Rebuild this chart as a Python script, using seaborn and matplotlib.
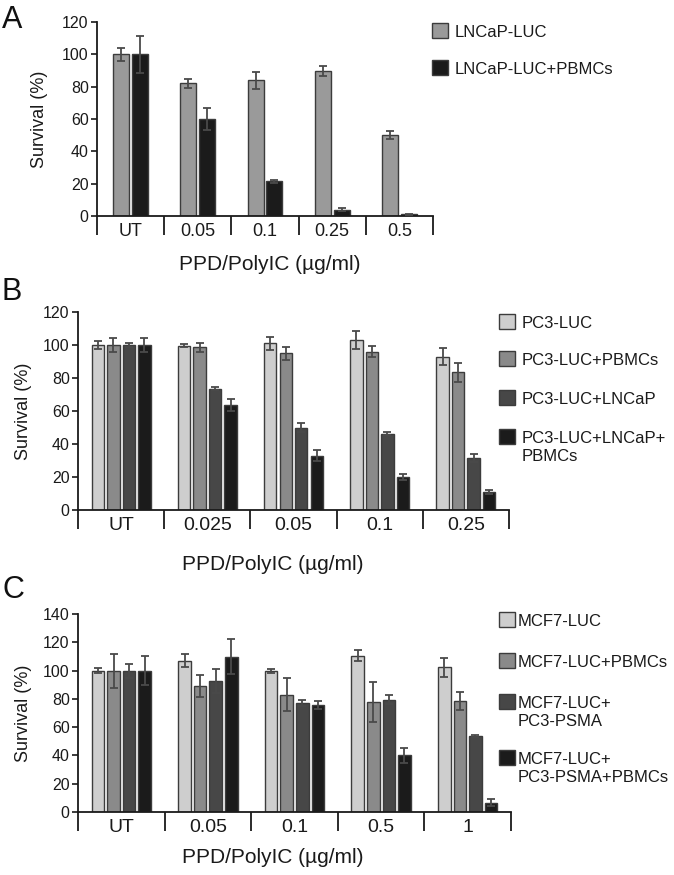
import numpy as np
import pandas as pd
import seaborn as sns
import matplotlib.pyplot as plt
from matplotlib.patches import Rectangle
from matplotlib.ticker import FixedLocator, MultipleLocator

sns.set_theme(style="ticks")
plt.rcParams['font.family'] = ['Liberation Sans', 'DejaVu Sans']

# ---------------- data ----------------
a_doses = ["UT", "0.05", "0.1", "0.25", "0.5"]
a_groups = ["LNCaP-LUC", "LNCaP-LUC+PBMCs"]
a_lncap = [100, 82, 84, 89.5, 50]
a_lncap_err = [4, 3, 5.3, 3, 2.6]
a_lncap_pbmc = [100, 60, 21.5, 4, 1]
a_lncap_pbmc_err = [11.5, 6.6, 1, 0.7, 0.3]

b_doses = ["UT", "0.025", "0.05", "0.1", "0.25"]
b_groups = ["PC3-LUC", "PC3-LUC+PBMCs", "PC3-LUC+LNCaP", "PC3-LUC+LNCaP+\nPBMCs"]
b_pc3 = [100, 99.5, 101, 103, 93]
b_pc3_err = [2.2, 1, 4, 5.6, 5]
b_pc3_pbmc = [100, 98.5, 95, 96, 83.5]
b_pc3_pbmc_err = [4, 2.8, 4, 3.4, 5.8]
b_pc3_lncap = [100, 73.5, 50, 46.2, 31.5]
b_pc3_lncap_err = [1.5, 1, 2.8, 1, 2.7]
b_pc3_lncap_pbmc = [100, 63.5, 33, 19.8, 11]
b_pc3_lncap_pbmc_err = [4, 3.8, 3.5, 1.8, 1.4]

c_doses = ["UT", "0.05", "0.1", "0.5", "1"]
c_groups = ["MCF7-LUC", "MCF7-LUC+PBMCs", "MCF7-LUC+\nPC3-PSMA", "MCF7-LUC+\nPC3-PSMA+PBMCs"]
c_mcf7 = [100, 107, 99.8, 110.5, 102.3]
c_mcf7_err = [1.6, 4.7, 1.2, 3.9, 6.5]
c_mcf7_pbmc = [100, 89.3, 83, 77.8, 78.5]
c_mcf7_pbmc_err = [12, 7.8, 11.8, 14.2, 6.2]
c_mcf7_psma = [100, 92.6, 77.3, 79.4, 53.7]
c_mcf7_psma_err = [5, 8.6, 2, 3.2, 0.7]
c_mcf7_psma_pbmc = [100, 109.8, 75.6, 40, 6.6]
c_mcf7_psma_pbmc_err = [10.5, 12.4, 2.7, 5, 2.4]

x_label = "PPD/PolyIC (µg/ml)"
y_label = "Survival (%)"

W, H = 674, 875
fig = plt.figure(figsize=(W / 100, H / 100), dpi=100)
EDGE = "#3c3c3c"


def px_axes(left, right, bottom, top):
    return fig.add_axes([left / W, 1 - bottom / H, (right - left) / W, (bottom - top) / H])


def panel(ax, doses, groups, values, errs, colors, width, gap, ymax,
          ylab_dx, xlab_xy, xtick_size):
    df = pd.DataFrame({
        "dose": np.tile(doses, len(groups)),
        "group": np.repeat(groups, len(doses)),
        "value": np.concatenate([np.asarray(v, float) for v in values]),
    })
    sns.barplot(data=df, x="dose", y="value", hue="group", order=doses,
                hue_order=groups, palette=colors, width=width, gap=gap,
                edgecolor=EDGE, linewidth=1.0, errorbar=None,
                legend=False, ax=ax, saturation=1)
    bars = list(ax.containers)
    for cont, e in zip(bars, errs):
        xs = [p.get_x() + p.get_width() / 2 for p in cont.patches]
        ys = [p.get_height() for p in cont.patches]
        ax.errorbar(xs, ys, yerr=e, fmt="none", ecolor="#4a4a4a",
                    elinewidth=1.3, capsize=3, capthick=1.3, zorder=5)
    ax.set_xlim(-0.5, len(doses) - 0.5)
    ax.set_ylim(0, ymax)
    ax.yaxis.set_major_locator(MultipleLocator(20))
    ax.xaxis.set_minor_locator(FixedLocator(np.arange(-0.5, len(doses), 1.0)))
    ax.tick_params(axis="x", which="major", length=0, pad=5, labelsize=xtick_size,
                   colors="#1a1a1a")
    ax.tick_params(axis="x", which="minor", length=14, width=1.3,
                   direction="out", color="#1a1a1a")
    ax.tick_params(axis="y", which="major", length=4, width=1.2, pad=2,
                   labelsize=11.5, colors="#1a1a1a")
    for s in ["top", "right"]:
        ax.spines[s].set_visible(False)
    for s in ["left", "bottom"]:
        ax.spines[s].set_linewidth(1.3)
        ax.spines[s].set_color("#1a1a1a")
    ax.set_ylabel(y_label, fontsize=13, color="#1a1a1a")
    ax.set_xlabel(x_label, fontsize=15, color="#1a1a1a")
    ax.yaxis.set_label_coords(ylab_dx, 0.5)
    ax.xaxis.set_label_coords(*xlab_xy)
    return [c.patches[0].get_facecolor() for c in bars]


def legend(labels, colors, x_sq, x_txt, rows):
    for lab, col, yc in zip(labels, colors, rows):
        fig.add_artist(Rectangle((x_sq / W, 1 - (yc + 7.5) / H), 16 / W, 15 / H,
                                 transform=fig.transFigure, facecolor=col,
                                 edgecolor=EDGE, linewidth=1.0))
        fig.text(x_txt / W, 1 - (yc - 5) / H, lab, fontsize=12, va="top",
                 ha="left", color="#1a1a1a", linespacing=1.25)


# Panel A
axA = px_axes(97, 433, 216, 22)
cA = panel(axA, a_doses, a_groups, [a_lncap, a_lncap_pbmc],
           [a_lncap_err, a_lncap_pbmc_err], ["#9a9a9a", "#1b1b1b"],
           0.56, 0.15, 120, -49 / 336, (0.515, -39 / 194), 13)
legend(a_groups, cA, 432, 455, [30, 67])

# Panel B
axB = px_axes(78, 509, 510, 312)
b_colors = ["#cecece", "#8a8a8a", "#474747", "#1b1b1b"]
cB = panel(axB, b_doses, b_groups,
           [b_pc3, b_pc3_pbmc, b_pc3_lncap, b_pc3_lncap_pbmc],
           [b_pc3_err, b_pc3_pbmc_err, b_pc3_lncap_err, b_pc3_lncap_pbmc_err],
           b_colors, 0.72, 0.2, 120, -46 / 431, (0.451, -45 / 198), 14)
legend(b_groups, cB, 499, 522, [321, 358, 397, 436])

# Panel C
axC = px_axes(78, 511, 812, 614)
cC = panel(axC, c_doses, c_groups,
           [c_mcf7, c_mcf7_pbmc, c_mcf7_psma, c_mcf7_psma_pbmc],
           [c_mcf7_err, c_mcf7_pbmc_err, c_mcf7_psma_err, c_mcf7_psma_pbmc_err],
           b_colors, 0.72, 0.2, 140, -46 / 433, (0.449, -36 / 198), 14)
legend(c_groups, cC, 499, 518, [619, 660, 701, 757])

# Panel letters
for letter, top in [("A", 5), ("B", 277), ("C", 575)]:
    fig.text(2 / W, 1 - top / H, letter, fontsize=22, va="top", ha="left",
             color="#111111")

fig.savefig("out.png", dpi=100)
